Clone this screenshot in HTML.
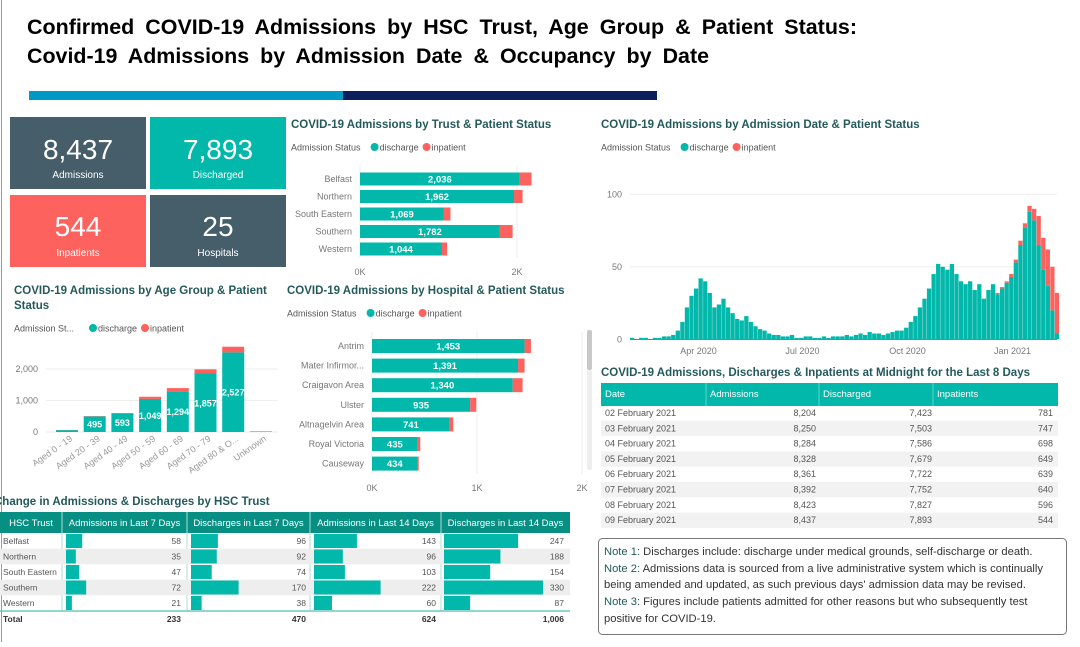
<!DOCTYPE html>
<html><head><meta charset="utf-8">
<style>
html,body{margin:0;padding:0;background:#fff;}
body{width:1080px;height:642px;overflow:hidden;position:relative;font-family:"Liberation Sans",sans-serif;}
svg text{font-family:"Liberation Sans",sans-serif;}
</style></head>
<body>
<svg id="s" width="1080" height="642" viewBox="0 0 1080 642" xmlns="http://www.w3.org/2000/svg">
<line x1="1.5" y1="0" x2="1.5" y2="642" stroke="#999" stroke-width="1"/>
<text x="27" y="34" font-size="21" font-weight="bold" textLength="830" lengthAdjust="spacingAndGlyphs" word-spacing="5">Confirmed COVID-19 Admissions by HSC Trust, Age Group &amp; Patient Status:</text>
<text x="27" y="63" font-size="21" font-weight="bold" textLength="682" lengthAdjust="spacingAndGlyphs" word-spacing="5">Covid-19 Admissions by Admission Date &amp; Occupancy by Date</text>
<rect x="29" y="91" width="314" height="9" fill="#0099c6"/>
<rect x="343" y="91" width="314" height="9" fill="#0b1f5c"/>

<g><rect x="10" y="117" width="136" height="72" fill="#455e6a"/><text x="78" y="159" font-size="28" fill="#fff" text-anchor="middle">8,437</text><text x="78" y="178" font-size="10" fill="#fff" text-anchor="middle">Admissions</text></g>
<g><rect x="150" y="117" width="136" height="72" fill="#01b8aa"/><text x="218" y="159" font-size="28" fill="#fff" text-anchor="middle">7,893</text><text x="218" y="178" font-size="10" fill="#fff" text-anchor="middle">Discharged</text></g>
<g><rect x="10" y="195" width="136" height="72" fill="#fd625e"/><text x="78" y="236" font-size="28" fill="#fff" text-anchor="middle">544</text><text x="78" y="256" font-size="10" fill="#fff" text-anchor="middle">Inpatients</text></g>
<g><rect x="150" y="195" width="136" height="72" fill="#455e6a"/><text x="218" y="236" font-size="28" fill="#fff" text-anchor="middle">25</text><text x="218" y="256" font-size="10" fill="#fff" text-anchor="middle">Hospitals</text></g>

<text x="291" y="128" font-size="11.5" font-weight="bold" fill="#255a5c">COVID-19 Admissions by Trust &amp; Patient Status</text>
<text x="601" y="128" font-size="11.5" font-weight="bold" fill="#255a5c">COVID-19 Admissions by Admission Date &amp; Patient Status</text>
<text x="14" y="294" font-size="11.5" font-weight="bold" fill="#255a5c">COVID-19 Admissions by Age Group &amp; Patient</text>
<text x="14" y="309" font-size="11.5" font-weight="bold" fill="#255a5c">Status</text>
<text x="287" y="294" font-size="11.5" font-weight="bold" fill="#255a5c">COVID-19 Admissions by Hospital &amp; Patient Status</text>
<text x="601" y="376" font-size="11.5" font-weight="bold" fill="#255a5c">COVID-19 Admissions, Discharges &amp; Inpatients at Midnight for the Last 8 Days</text>
<text x="-6" y="505" font-size="11.5" font-weight="bold" fill="#255a5c">Change in Admissions &amp; Discharges by HSC Trust</text>

<g id="legends"></g>
<g id="trust"></g><g id="age"></g><g id="hosp"></g><g id="ts"></g><g id="t1"></g><g id="t2"></g>
<rect x="587" y="330" width="5" height="40" rx="2" fill="#c8c8c8"/>
<rect x="587" y="370" width="5" height="100" rx="2" fill="#eee"/>

<g>
<rect x="598.5" y="538.5" width="468" height="96" rx="4" fill="#fff" stroke="#777"/>
<text font-size="11.2" fill="#333">
<tspan x="604" y="555" fill="#255a5c">Note 1:</tspan><tspan> Discharges include: discharge under medical grounds, self-discharge or death.</tspan>
<tspan x="604" y="572" fill="#255a5c">Note 2:</tspan><tspan> Admissions data is sourced from a live administrative system which is continually</tspan>
<tspan x="604" y="588">being amended and updated, as such previous days' admission data may be revised.</tspan>
<tspan x="604" y="605" fill="#255a5c">Note 3:</tspan><tspan> Figures include patients admitted for other reasons but who subsequently test</tspan>
<tspan x="604" y="622">positive for COVID-19.</tspan>
</text></g>
</svg>
<script>
const NS='http://www.w3.org/2000/svg';
function mk(p,tag,a,txt){const e=document.createElementNS(NS,tag);for(const k in a)e.setAttribute(k,a[k]);if(txt!==undefined)e.textContent=txt;p.appendChild(e);return e;}
const TEAL='#01b8aa',RED='#fd625e',GRAY='#777';
const fmt=v=>v.toLocaleString('en-US');

// Trust chart data
const trustNames=['Belfast','Northern','South Eastern','Southern','Western'];
const trustDis=[2036,1962,1069,1782,1044];
const trustInp=[149,109,83,162,66];
// Age chart data
const ageNames=['Aged 0 - 19','Aged 20 - 39','Aged 40 - 49','Aged 50 - 59','Aged 60 - 69','Aged 70 - 79','Aged 80 & O...','Unknown'];
const ageDis=[60,495,593,1049,1294,1857,2527,0];
const ageInp=[5,10,10,70,100,133,180,20];
const ageTicks=[0,1000,2000];
// Hospital chart data
const hospNames=['Antrim','Mater Infirmor...','Craigavon Area','Ulster','Altnagelvin Area','Royal Victoria','Causeway'];
const hospDis=[1453,1391,1340,935,741,435,434];
const hospInp=[61,62,94,58,33,25,11];
// Time series (4-day buckets from 1 Feb 2020)
const tsTotal=[1,0,1,1,0,1,1,2,2,3,6,12,22,30,35,42,40,32,22,24,28,22,18,14,13,16,12,9,7,6,4,3,3,2,2,3,1,1,2,2,1,1,2,1,2,2,2,3,2,3,4,3,5,4,4,3,4,5,6,6,8,12,16,22,28,35,45,52,50,48,52,45,40,38,40,34,38,28,34,38,32,36,40,45,55,68,80,92,90,85,70,62,50,32];
const tsInp=[0,0,0,0,0,0,0,0,0,0,0,0,0,0,0,0,0,0,0,0,0,0,0,0,0,0,0,0,0,0,0,0,0,0,0,0,0,0,0,0,0,0,0,0,0,0,0,0,0,0,0,0,0,0,0,0,0,0,0,0,0,0,0,0,0,0,0,0,0,0,0,0,0,0,0,0,0,0,0,0,1,1,1,2,2,3,3,4,8,20,22,25,30,28];
const tsYTicks=[0,50,100];
const tsXLabels=['Apr 2020','Jul 2020','Oct 2020','Jan 2021'];
const tsXDays=[60,151,243,335];
// Last 8 days table
const l8Dates=['02 February 2021','03 February 2021','04 February 2021','05 February 2021','06 February 2021','07 February 2021','08 February 2021','09 February 2021'];
const l8Adm=[8204,8250,8284,8328,8361,8392,8423,8437];
const l8Dis=[7423,7503,7586,7679,7722,7752,7827,7893];
const l8Inp=[781,747,698,649,639,640,596,544];
// Change table
const chTrusts=['Belfast','Northern','South Eastern','Southern','Western'];
const chA7=[58,35,47,72,21];
const chD7=[96,92,74,170,38];
const chA14=[143,96,103,222,60];
const chD14=[247,188,154,330,87];

function legend(x,y,lbl){
  const g=mk(document.getElementById('legends'),'g',{});
  
  
  mk(g,'text',{x:x,y:y+3.5,'font-size':9,fill:'#555'},lbl);
  const w=lbl.length*4.6+6;
  mk(g,'circle',{cx:x+w+4,cy:y,r:4,fill:TEAL});
  mk(g,'text',{x:x+w+9,y:y+3.5,'font-size':9,fill:'#555'},'discharge');
  mk(g,'circle',{cx:x+w+56,cy:y,r:4,fill:RED});
  mk(g,'text',{x:x+w+61,y:y+3.5,'font-size':9,fill:'#555'},'inpatient');
}
legend(291,147,'Admission Status');
legend(601,147,'Admission Status');
legend(14,328,'Admission St...');
legend(287,313,'Admission Status');

function hbar(gid,names,dis,inp,x0,pxPer,y0,step,h,lblX,ticks,tickY,gridTop,gridBot){
  const g=document.getElementById(gid);
  const X=v=>x0+v*pxPer;
  ticks.forEach(t=>{
    mk(g,'line',{x1:X(t[0]),x2:X(t[0]),y1:gridTop,y2:gridBot,stroke:'#eee'});
    mk(g,'text',{x:X(t[0]),y:tickY,'font-size':9,fill:GRAY,'text-anchor':'middle'},t[1]);
  });
  names.forEach((n,i)=>{
    const cy=y0+i*step;
    const lt=mk(g,'text',{x:lblX,y:cy+3,'font-size':9,fill:GRAY,'text-anchor':'end'},n);
    
    
    const b=mk(g,'rect',{x:X(0),y:cy-h/2,width:dis[i]*pxPer,height:h,fill:TEAL});
    
    
    const r=mk(g,'rect',{x:X(dis[i]),y:cy-h/2,width:inp[i]*pxPer,height:h,fill:RED});
    
    
    mk(g,'text',{x:X(dis[i]/2),y:cy+3.5,'font-size':9.5,fill:'#fff','font-weight':'bold','text-anchor':'middle'},fmt(dis[i]));
  });
}
hbar('trust',trustNames,trustDis,trustInp,360,157/2000,179,17.5,13,352,[[0,'0K'],[2000,'2K']],275,165,258);
hbar('hosp',hospNames,hospDis,hospInp,372,105/1000,346,19.6,14,364,[[0,'0K'],[1000,'1K'],[2000,'2K']],491,332,474);

// Age chart
(function(){
  const g=document.getElementById('age');
  const Y=v=>432-v*0.0315;
  ageTicks.forEach(t=>{
    mk(g,'line',{x1:46,x2:278,y1:Y(t),y2:Y(t),stroke:'#eee'});
    mk(g,'text',{x:38,y:Y(t)+3,'font-size':9,fill:GRAY,'text-anchor':'end'},fmt(t));
  });
  ageNames.forEach((n,i)=>{
    const cx=67+i*27.7,w=22;
    const b=mk(g,'rect',{x:cx-w/2,y:Y(ageDis[i]),width:w,height:ageDis[i]*0.0315,fill:TEAL});
    
    
    const r=mk(g,'rect',{x:cx-w/2,y:Y(ageDis[i]+ageInp[i]),width:w,height:ageInp[i]*0.0315,fill:RED});
    
    
    if(ageDis[i]>300) mk(g,'text',{x:cx,y:Y(ageDis[i]/2)+3.5,'font-size':9,fill:'#fff','font-weight':'bold','text-anchor':'middle'},fmt(ageDis[i]));
    mk(g,'text',{x:cx+6,y:440,'font-size':9,fill:'#999','text-anchor':'end',transform:`rotate(-35 ${cx+6} 440)`},n);
  });
})();

// Time series
(function(){
  const g=document.getElementById('ts');
  const x0=630,pxDay=1.142,Y=v=>339.3-v*1.45;
  tsYTicks.forEach(t=>{
    if(t>0) mk(g,'line',{x1:630,x2:1057,y1:Y(t),y2:Y(t),stroke:'#eee'});
    mk(g,'text',{x:622,y:Y(t)+3,'font-size':9,fill:GRAY,'text-anchor':'end'},t);
  });
  tsXLabels.forEach((l,i)=>mk(g,'text',{x:x0+tsXDays[i]*pxDay,y:354,'font-size':9,fill:GRAY,'text-anchor':'middle'},l));
  tsTotal.forEach((v,i)=>{
    const bx=x0+i*4*pxDay,bw=4*pxDay-0.3,d=v-tsInp[i];
    const b=mk(g,'rect',{x:bx,y:Y(d),width:bw,height:d*1.45,fill:TEAL});
    
    
    if(tsInp[i]>0){
      const r=mk(g,'rect',{x:bx,y:Y(v),width:bw,height:tsInp[i]*1.45,fill:RED});
      
      
    }
  });
  mk(g,'line',{x1:630,x2:1057,y1:339.5,y2:339.5,stroke:TEAL,'stroke-width':1});
})();

// Last 8 days table
(function(){
  const g=document.getElementById('t1');
  const hd=mk(g,'rect',{x:601,y:383,width:457,height:23,fill:'#01b8aa'});
  
  
  [[605,'Date'],[710,'Admissions'],[823,'Discharged'],[937,'Inpatients']].forEach(h=>mk(g,'text',{x:h[0],y:397,'font-size':9.5,fill:'#fff'},h[1]));
  [706,819,933].forEach(x=>mk(g,'line',{x1:x,x2:x,y1:383,y2:406,stroke:'#5fd4cb'}));
  l8Dates.forEach((d,i)=>{
    const cy=413+i*15.3;
    if(i%2==1) mk(g,'rect',{x:601,y:cy-7.5,width:457,height:15.3,fill:'#f2f2f2'});
    mk(g,'text',{x:605,y:cy+3,'font-size':9,fill:'#555'},d);
    mk(g,'text',{x:816,y:cy+3,'font-size':9,fill:'#555','text-anchor':'end'},fmt(l8Adm[i]));
    mk(g,'text',{x:932,y:cy+3,'font-size':9,fill:'#555','text-anchor':'end'},fmt(l8Dis[i]));
    mk(g,'text',{x:1053,y:cy+3,'font-size':9,fill:'#555','text-anchor':'end'},fmt(l8Inp[i]));
  });
})();

// Change table
(function(){
  const g=document.getElementById('t2');
  const hd=mk(g,'rect',{x:0,y:512,width:570,height:21,fill:'#088f84'});
  
  
  const cols=[[0,62,'HSC Trust'],[62,187,'Admissions in Last 7 Days'],[187,310,'Discharges in Last 7 Days'],[310,441,'Admissions in Last 14 Days'],[441,570,'Discharges in Last 14 Days']];
  cols.forEach((c,i)=>{
    mk(g,'text',{x:(c[0]+c[1])/2,y:526,'font-size':9.5,fill:'#fff','text-anchor':'middle'},c[2]);
    if(i>0) mk(g,'line',{x1:c[0],x2:c[0],y1:512,y2:611,stroke:'#a8dcd7'});
  });
  const data=[chA7,chD7,chA14,chD14],starts=[66,191,314,444],ends=[181,306,436,564],scale=[0.28,0.28,0.30,0.30];
  chTrusts.forEach((t,i)=>{
    const cy=541+i*15.5;
    if(i%2==1) mk(g,'rect',{x:0,y:cy-7.75,width:570,height:15.5,fill:'#eee'});
    mk(g,'text',{x:3,y:cy+3,'font-size':8.5,fill:'#555'},t);
    data.forEach((arr,j)=>{
      const b=mk(g,'rect',{x:starts[j],y:cy-7,width:arr[i]*scale[j],height:14,fill:TEAL});
      
      
      mk(g,'text',{x:ends[j],y:cy+3,'font-size':8.5,fill:'#555','text-anchor':'end'},fmt(arr[i]));
    });
  });
  mk(g,'line',{x1:0,x2:570,y1:611,y2:611,stroke:'#6fc8c0','stroke-width':1.5});
  mk(g,'text',{x:3,y:622,'font-size':8.5,fill:'#333','font-weight':'bold'},'Total');
  data.forEach((arr,j)=>mk(g,'text',{x:ends[j],y:622,'font-size':8.5,fill:'#333','font-weight':'bold','text-anchor':'end'},fmt(arr.reduce((a,b)=>a+b,0))));
})();
</script>
</body></html>
